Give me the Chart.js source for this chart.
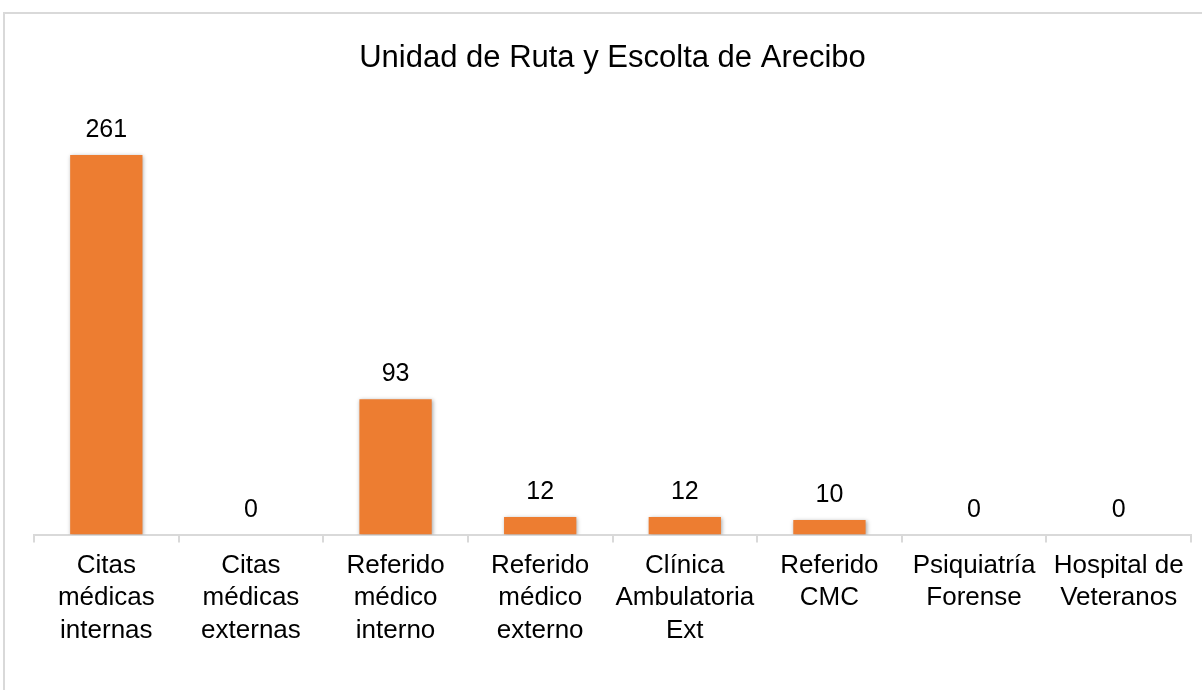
<!DOCTYPE html>
<html>
<head>
<meta charset="utf-8">
<script src="https://cdn.jsdelivr.net/npm/chart.js@4/dist/chart.umd.min.js"></script>
<style>
  html, body { margin: 0; padding: 0; background: #fff; overflow: hidden; }
  #frame { position: absolute; left: 3px; top: 12px; width: 1300px; height: 800px; border: 2px solid #d9d9d9; box-sizing: border-box; }
  #wrap { position: absolute; left: 0; top: 0; width: 1202px; height: 690px; }
</style>
</head>
<body>
<div id="frame"></div>
<div id="wrap"><canvas id="chart"></canvas></div>
<script>
const chartTitle = 'Unidad de Ruta y Escolta de Arecibo';
const categories = [
  ['Citas', 'médicas', 'internas'],
  ['Citas', 'médicas', 'externas'],
  ['Referido', 'médico', 'interno'],
  ['Referido', 'médico', 'externo'],
  ['Clínica', 'Ambulatoria', 'Ext'],
  ['Referido', 'CMC'],
  ['Psiquiatría', 'Forense'],
  ['Hospital de', 'Veteranos']
];
const values = [261, 0, 93, 12, 12, 10, 0, 0];

const fontFamily = '"Liberation Sans", Arial, sans-serif';

// bar shadow like the office chart
const barShadow = {
  id: 'barShadow',
  beforeDatasetsDraw(chart) {
    const ctx = chart.ctx;
    ctx.save();
    ctx.shadowColor = 'rgba(0, 0, 0, 0.35)';
    ctx.shadowBlur = 4;
    ctx.shadowOffsetX = 1;
    ctx.shadowOffsetY = 1;
  },
  afterDatasetsDraw(chart) {
    chart.ctx.restore();
  }
};

// value labels above each bar
const valueLabels = {
  id: 'valueLabels',
  afterDatasetsDraw(chart) {
    const ctx = chart.ctx;
    const meta = chart.getDatasetMeta(0);
    ctx.save();
    ctx.font = '25px ' + fontFamily;
    ctx.fillStyle = '#000';
    ctx.textAlign = 'center';
    ctx.textBaseline = 'alphabetic';
    meta.data.forEach((bar, i) => {
      ctx.fillText(String(values[i]), bar.x, bar.y - 18);
    });
    ctx.restore();
  }
};

const ctx = document.getElementById('chart').getContext('2d');
new Chart(ctx, {
  type: 'bar',
  data: {
    labels: categories,
    datasets: [{
      data: values,
      backgroundColor: '#ED7D31',
      borderWidth: 0,
      categoryPercentage: 1,
      barPercentage: 0.5
    }]
  },
  options: {
    responsive: true,
    maintainAspectRatio: false,
    animation: false,
    layout: {
      padding: { left: 34, right: 11, top: 0, bottom: 36 }
    },
    plugins: {
      legend: { display: false },
      tooltip: { enabled: false },
      title: {
        display: true,
        text: chartTitle,
        color: '#000',
        font: { family: fontFamily, size: 31, weight: 'normal' },
        padding: { top: 40, bottom: 21 }
      }
    },
    scales: {
      y: {
        display: false,
        min: 0,
        max: 300
      },
      x: {
        border: { display: true, color: '#d9d9d9', width: 2 },
        grid: {
          display: true,
          offset: true,
          drawOnChartArea: false,
          drawTicks: true,
          tickLength: 8,
          color: '#d9d9d9',
          lineWidth: 2
        },
        ticks: {
          color: '#000',
          padding: 7,
          maxRotation: 0,
          autoSkip: false,
          font: { family: fontFamily, size: 26, lineHeight: 1.25 }
        }
      }
    }
  },
  plugins: [barShadow, valueLabels]
});
</script>
</body>
</html>
